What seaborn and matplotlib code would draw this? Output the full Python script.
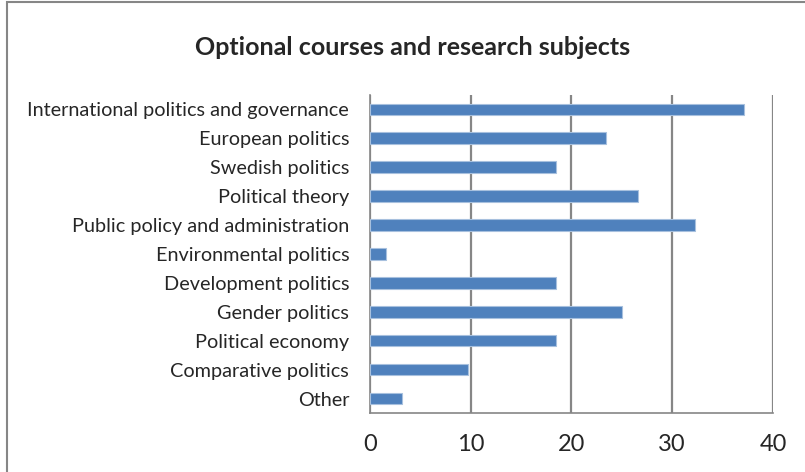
import matplotlib
matplotlib.use("Agg")
import matplotlib.pyplot as plt
import matplotlib.patches as mpatches
import seaborn as sns
import pandas as pd

# categories and values (percent)
subjects = [
    "International politics and governance",
    "European politics",
    "Swedish politics",
    "Political theory",
    "Public policy and administration",
    "Environmental politics",
    "Development politics",
    "Gender politics",
    "Political economy",
    "Comparative politics",
    "Other",
]
shares = [37.1, 23.4, 18.5, 26.6, 32.3, 1.6, 18.5, 25.0, 18.5, 9.7, 3.2]
xticks = [0, 10, 20, 30, 40]

df = pd.DataFrame({"subject": subjects, "share": shares})

sns.set_style("white")
plt.rcParams["font.family"] = ["Lato", "DejaVu Sans"]

fig = plt.figure(figsize=(8.05, 4.72), dpi=100)
ax = fig.add_axes([0.4596, 0.125, 0.5006, 0.674])

sns.barplot(data=df, x="share", y="subject", color="#4F81BD", width=0.4,
            edgecolor="#A7C0DE", linewidth=0.8, saturation=1, ax=ax, zorder=3)

grid_c = "#868686"
ax.set_xlim(0, 40)
ax.set_ylim(len(subjects) - 0.5, -0.5)
ax.set_xticks(xticks)
ax.set_xticklabels([str(t) for t in xticks], fontsize=17)
ax.xaxis.grid(True, color=grid_c, linewidth=1.6, zorder=0)
ax.yaxis.grid(False)
ax.tick_params(axis="x", length=5, width=1.2, color=grid_c, direction="out", pad=10)

# category labels at centers, tick marks at boundaries (Excel style)
ax.set_yticks(range(len(subjects)))
ax.set_yticklabels(subjects, fontsize=14.3)
ax.tick_params(axis="y", length=0, pad=15)
ax.set_yticks([i - 0.5 for i in range(len(subjects) + 1)], minor=True)
ax.tick_params(axis="y", which="minor", length=5, width=1.2, color=grid_c)

for s in ["top", "right"]:
    ax.spines[s].set_visible(False)
ax.spines["left"].set_color(grid_c)
ax.spines["left"].set_linewidth(1.2)
ax.spines["bottom"].set_color(grid_c)
ax.spines["bottom"].set_linewidth(1.2)
ax.set_xlabel("")
ax.set_ylabel("")

fig.text(0.512, 0.9, "Optional courses and research subjects", ha="center",
         va="center", fontsize=18, fontweight="bold")

# outer chart frame
fig.patches.append(mpatches.Rectangle((0.0085, -0.05), 1.2, 1.045,
                                      transform=fig.transFigure, fill=False,
                                      edgecolor=grid_c, linewidth=1.5))

fig.savefig("out.png", dpi=100)
